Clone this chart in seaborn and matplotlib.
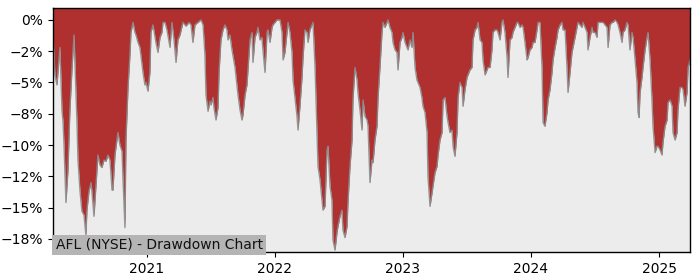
import numpy as np
import pandas as pd
import matplotlib
matplotlib.use("Agg")
import matplotlib.pyplot as plt
import matplotlib.ticker as mticker
import seaborn as sns

# Dates as decimal years, drawdown in percent
years = [
    2020.266, 2020.281, 2020.297, 2020.320, 2020.336, 2020.344, 2020.352, 2020.367, 2020.383, 2020.398,
    2020.414, 2020.430, 2020.438, 2020.453, 2020.461, 2020.477, 2020.492, 2020.508, 2020.523, 2020.531,
    2020.547, 2020.563, 2020.570, 2020.586, 2020.602, 2020.617, 2020.633, 2020.648, 2020.664, 2020.680,
    2020.695, 2020.711, 2020.727, 2020.734, 2020.750, 2020.773, 2020.789, 2020.805, 2020.813, 2020.828,
    2020.836, 2020.852, 2020.867, 2020.875, 2020.891, 2020.906, 2020.914, 2020.930, 2020.945, 2020.969,
    2020.984, 2020.992, 2021.008, 2021.023, 2021.031, 2021.047, 2021.063, 2021.070, 2021.086, 2021.102,
    2021.117, 2021.125, 2021.141, 2021.156, 2021.180, 2021.195, 2021.211, 2021.227, 2021.242, 2021.258,
    2021.281, 2021.305, 2021.328, 2021.344, 2021.359, 2021.375, 2021.398, 2021.422, 2021.438, 2021.453,
    2021.461, 2021.477, 2021.492, 2021.500, 2021.516, 2021.523, 2021.539, 2021.555, 2021.563, 2021.578,
    2021.594, 2021.609, 2021.625, 2021.633, 2021.648, 2021.664, 2021.688, 2021.711, 2021.727, 2021.742,
    2021.750, 2021.766, 2021.781, 2021.789, 2021.805, 2021.820, 2021.828, 2021.844, 2021.859, 2021.867,
    2021.883, 2021.898, 2021.906, 2021.922, 2021.938, 2021.945, 2021.961, 2021.977, 2021.984, 2022.000,
    2022.016, 2022.039, 2022.055, 2022.063, 2022.078, 2022.094, 2022.102, 2022.117, 2022.133, 2022.141,
    2022.156, 2022.172, 2022.180, 2022.195, 2022.211, 2022.219, 2022.234, 2022.250, 2022.258, 2022.273,
    2022.289, 2022.297, 2022.313, 2022.328, 2022.336, 2022.352, 2022.367, 2022.375, 2022.391, 2022.406,
    2022.414, 2022.430, 2022.445, 2022.453, 2022.469, 2022.484, 2022.492, 2022.508, 2022.523, 2022.531,
    2022.547, 2022.563, 2022.570, 2022.586, 2022.602, 2022.609, 2022.625, 2022.641, 2022.648, 2022.664,
    2022.680, 2022.688, 2022.703, 2022.719, 2022.727, 2022.742, 2022.758, 2022.766, 2022.781, 2022.797,
    2022.805, 2022.820, 2022.836, 2022.844, 2022.859, 2022.875, 2022.883, 2022.898, 2022.914, 2022.922,
    2022.938, 2022.953, 2022.961, 2022.977, 2022.992, 2023.000, 2023.016, 2023.031, 2023.039, 2023.055,
    2023.070, 2023.078, 2023.094, 2023.109, 2023.133, 2023.148, 2023.156, 2023.172, 2023.188, 2023.195,
    2023.211, 2023.227, 2023.234, 2023.250, 2023.266, 2023.273, 2023.289, 2023.305, 2023.313, 2023.328,
    2023.344, 2023.352, 2023.367, 2023.383, 2023.391, 2023.406, 2023.422, 2023.430, 2023.445, 2023.461,
    2023.469, 2023.484, 2023.500, 2023.523, 2023.539, 2023.547, 2023.563, 2023.578, 2023.586, 2023.602,
    2023.617, 2023.625, 2023.641, 2023.656, 2023.664, 2023.680, 2023.695, 2023.703, 2023.719, 2023.734,
    2023.742, 2023.758, 2023.773, 2023.781, 2023.797, 2023.813, 2023.820, 2023.836, 2023.852, 2023.859,
    2023.875, 2023.891, 2023.898, 2023.914, 2023.930, 2023.938, 2023.953, 2023.969, 2023.977, 2023.992,
    2024.008, 2024.016, 2024.031, 2024.047, 2024.055, 2024.070, 2024.086, 2024.094, 2024.109, 2024.125,
    2024.133, 2024.148, 2024.164, 2024.172, 2024.188, 2024.203, 2024.211, 2024.227, 2024.242, 2024.250,
    2024.266, 2024.281, 2024.289, 2024.305, 2024.320, 2024.328, 2024.344, 2024.359, 2024.367, 2024.383,
    2024.398, 2024.406, 2024.422, 2024.438, 2024.445, 2024.461, 2024.477, 2024.484, 2024.500, 2024.516,
    2024.523, 2024.539, 2024.555, 2024.563, 2024.578, 2024.594, 2024.602, 2024.617, 2024.633, 2024.641,
    2024.656, 2024.672, 2024.680, 2024.695, 2024.711, 2024.719, 2024.734, 2024.750, 2024.758, 2024.773,
    2024.789, 2024.797, 2024.813, 2024.828, 2024.836, 2024.844, 2024.852, 2024.867, 2024.875, 2024.891,
    2024.906, 2024.914, 2024.930, 2024.945, 2024.953, 2024.969, 2024.984, 2024.992, 2025.008, 2025.023,
    2025.031, 2025.047, 2025.063, 2025.070, 2025.086, 2025.102, 2025.109, 2025.125, 2025.141, 2025.148,
    2025.164, 2025.180, 2025.188, 2025.203, 2025.219, 2025.227, 2025.242,
]

drawdown_pct = [
    -1.2, -4.4, -5.2, -2.2, -7.2, -8.1, -10.0, -14.6, -12.0, -7.2,
    -4.0, -1.2, -3.6, -8.1, -11.2, -13.7, -15.3, -15.6, -17.2, -15.2,
    -13.7, -13.0, -13.7, -15.7, -13.2, -10.8, -11.6, -11.8, -11.2, -11.3,
    -10.8, -11.2, -13.6, -13.6, -10.8, -9.0, -10.0, -10.5, -12.8, -16.6,
    -9.6, -5.4, -2.8, -1.0, -0.2, -1.0, -1.2, -1.8, -2.2, -4.2,
    -5.2, -5.0, -5.7, -4.2, -1.0, -0.4, -1.4, -1.8, -2.6, -1.4,
    -1.0, -0.2, -0.2, -0.8, -2.2, -0.2, -1.6, -3.4, -1.6, -1.2,
    -0.2, -0.5, -0.2, -0.4, -1.8, -0.4, -0.2, 0.0, -0.4, -2.8,
    -6.0, -7.3, -6.5, -6.8, -6.2, -7.0, -8.0, -7.0, -4.2, -1.6,
    -0.8, -0.4, -0.8, -1.6, -1.2, -2.4, -3.8, -6.0, -7.2, -8.0,
    -7.6, -6.0, -5.2, -4.0, -1.6, -1.0, -3.4, -1.4, -1.0, -0.6,
    -1.6, -1.4, -2.4, -4.2, -1.0, -0.8, -1.8, -0.6, -0.4, -0.2,
    0.0, 0.0, -1.0, -3.2, -2.6, -1.0, -0.2, -1.0, -2.6, -4.8,
    -6.2, -7.7, -8.8, -6.9, -4.6, -3.0, -0.8, -1.0, -1.8, -0.8,
    -0.4, -0.2, -3.8, -9.0, -11.7, -12.8, -14.4, -15.2, -14.9, -10.4,
    -10.1, -13.3, -14.4, -17.6, -18.4, -17.0, -16.5, -15.7, -15.2, -16.8,
    -17.4, -16.5, -14.6, -11.7, -9.6, -6.4, -3.8, -4.8, -5.8, -7.2,
    -8.8, -6.4, -7.7, -8.0, -8.5, -13.0, -11.2, -11.4, -9.6, -8.5,
    -6.2, -3.8, -1.0, -0.2, -0.6, -0.2, 0.0, -0.6, -1.0, -1.8,
    -2.4, -2.6, -4.0, -1.8, -1.4, -1.0, -1.8, -2.2, -2.4, -1.6,
    -2.2, -1.0, -3.8, -4.8, -5.4, -6.2, -6.9, -7.4, -9.0, -12.5,
    -14.9, -13.8, -13.3, -12.2, -11.7, -10.9, -9.6, -9.0, -6.4, -6.2,
    -7.7, -8.2, -9.0, -8.8, -10.1, -10.9, -9.0, -6.2, -5.0, -5.4,
    -6.9, -5.6, -4.6, -4.0, -3.8, -1.6, -0.8, -0.6, -0.2, -1.6,
    -1.8, -3.2, -4.4, -4.0, -3.8, -3.8, -2.4, -1.0, -0.8, -0.8,
    -1.0, -1.6, -0.2, 0.0, -1.0, -3.0, -4.6, -1.6, -1.4, -1.0,
    -0.6, -0.2, -0.2, -0.6, -0.4, -0.6, -1.8, -3.2, -3.0, -2.4,
    -2.2, -1.8, -1.8, -0.8, -0.2, -0.2, -3.8, -8.2, -8.5, -7.4,
    -6.4, -5.6, -4.2, -3.2, -2.2, -1.4, -0.8, -0.4, -0.2, -0.8,
    -0.8, -3.8, -5.8, -4.2, -2.6, -2.2, -1.4, -0.6, -0.2, -0.4,
    -0.6, -0.2, -0.6, -1.0, -2.4, -1.4, -0.6, -1.0, -1.0, -1.4,
    -0.2, -0.2, -0.2, -0.2, -0.4, -0.6, -2.2, -0.4, -0.2, -0.2,
    0.0, -0.2, -0.4, -1.0, -1.8, -1.0, -0.8, -0.2, -0.4, -2.4,
    -1.0, -1.4, -3.2, -5.0, -7.4, -7.8, -5.8, -4.6, -3.8, -2.4,
    -1.4, -1.0, -3.2, -6.4, -8.5, -10.6, -10.1, -10.1, -10.4, -10.8,
    -9.8, -8.5, -8.0, -6.6, -6.4, -6.9, -9.0, -9.6, -9.0, -7.2,
    -5.4, -5.4, -5.6, -6.9, -5.8, -3.8, -3.2,
]

ytick_values = [0, -2.5, -5, -7.5, -10, -12.5, -15, -17.5]
xtick_years = [2021, 2022, 2023, 2024, 2025]
title_text = "AFL (NYSE) - Drawdown Chart"

base = pd.Timestamp("2021-01-01")
dates = base + pd.to_timedelta((np.array(years) - 2021.0) * 365.25, unit="D")
df = pd.DataFrame({"date": dates, "drawdown": drawdown_pct})

plt.rcParams["font.family"] = ["DejaVu Sans"]
fig = plt.figure(figsize=(7, 2.8), dpi=100)
ax = fig.add_axes([53 / 700, 1 - 252 / 280, 637 / 700, 244 / 280])
ax.set_facecolor("#ececec")

ymin, ymax = -18.55, 0.95
ax.fill_between(df["date"], df["drawdown"], ymax, color="#b03030", linewidth=0)
sns.lineplot(data=df, x="date", y="drawdown", ax=ax, color="#8c8c8c",
             linewidth=1.0, alpha=0.9)

ax.set_ylim(ymin, ymax)
ax.set_xlim(df["date"].min(), df["date"].max())
ax.yaxis.set_major_locator(mticker.FixedLocator(ytick_values))
ax.yaxis.set_major_formatter(mticker.FuncFormatter(
    lambda v, p: f"{v:.0f}%".replace("-", "\u2212")))
ax.set_xticks([pd.Timestamp(f"{y}-01-01") for y in xtick_years])
ax.set_xticklabels([str(y) for y in xtick_years])
ax.set_xlabel("")
ax.set_ylabel("")
ax.tick_params(labelsize=10)
for s in ax.spines.values():
    s.set_color("black")
    s.set_linewidth(1.0)

ax.text(0.004, 0.0, title_text, transform=ax.transAxes, fontsize=10,
        ha="left", va="bottom", color="#111111",
        bbox=dict(facecolor="#b4b4b4", edgecolor="none", pad=2.5))

fig.savefig("out.png", dpi=100)
